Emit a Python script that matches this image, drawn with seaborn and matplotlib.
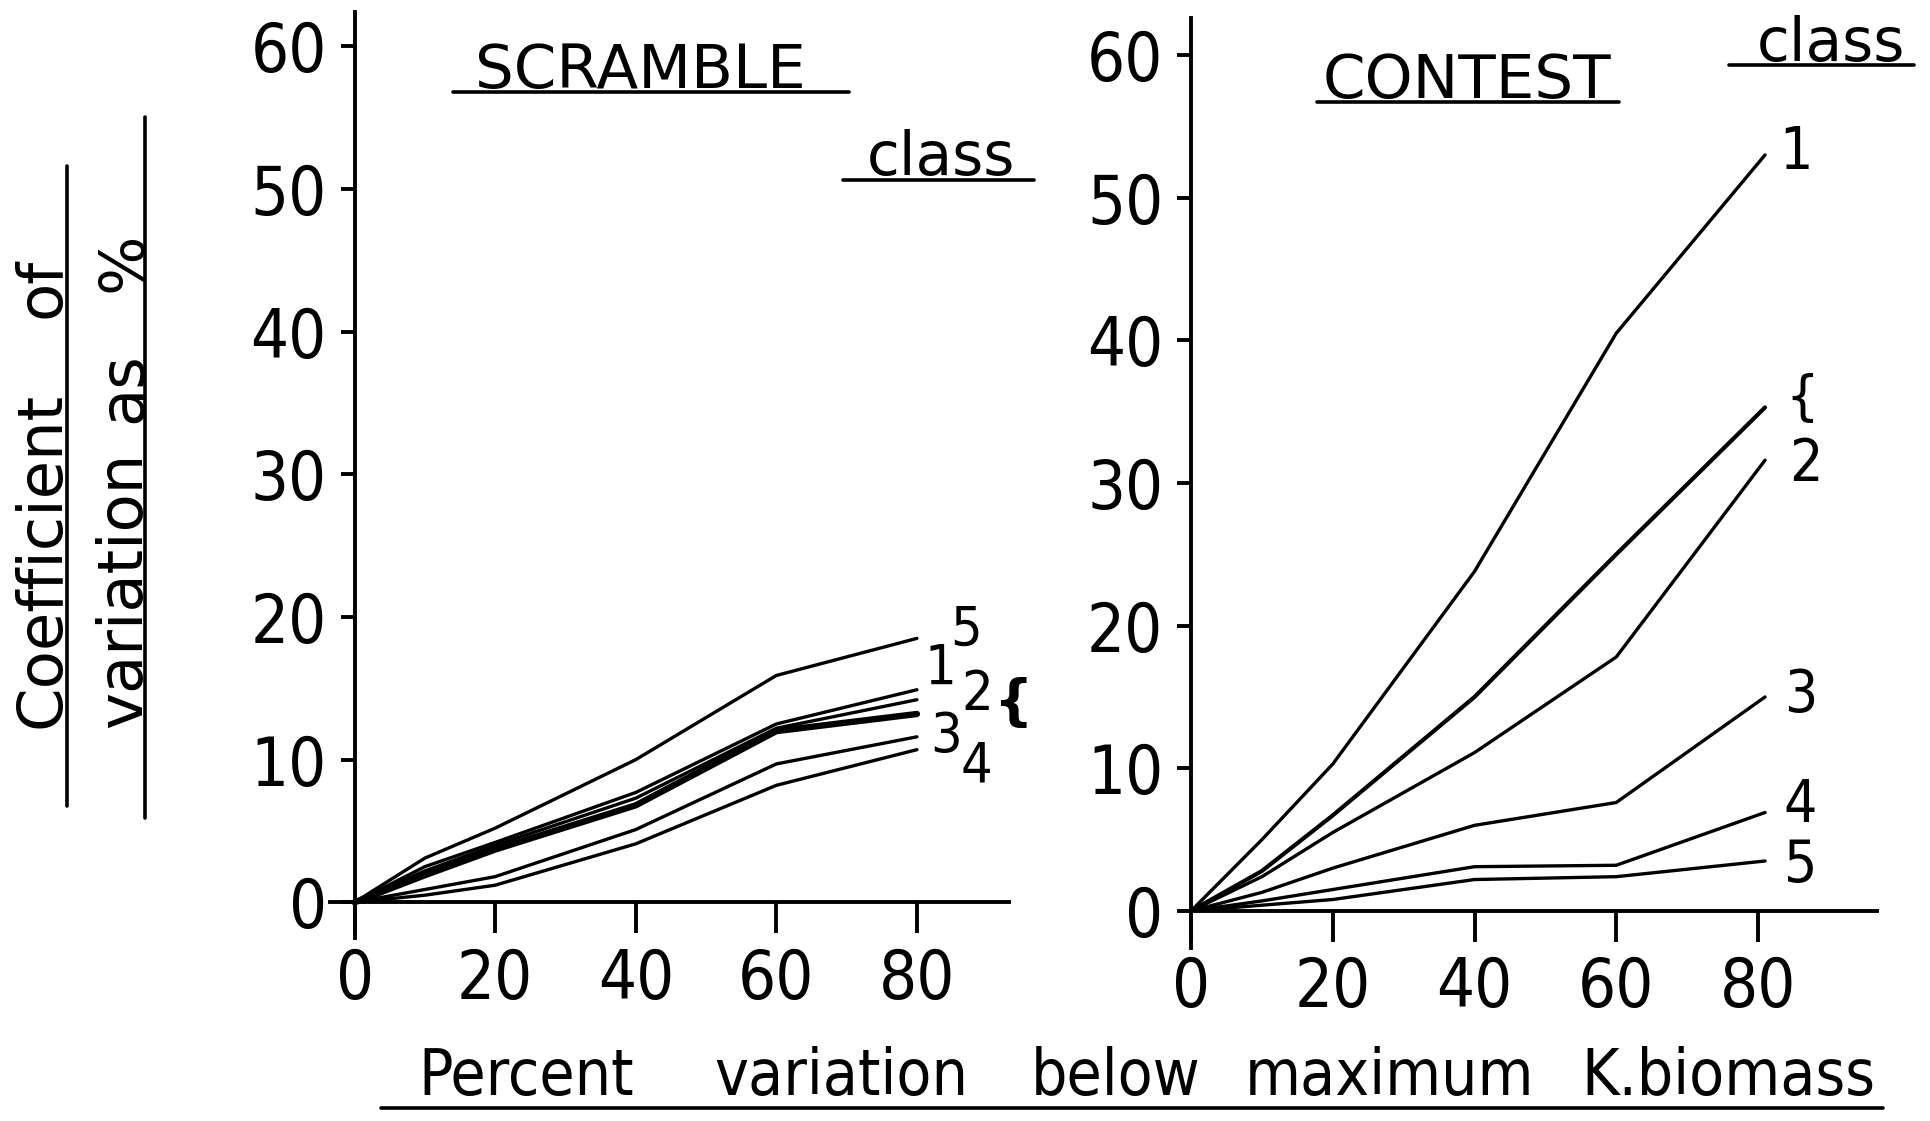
import numpy as np
import pandas as pd
import matplotlib
matplotlib.use("Agg")
import matplotlib.pyplot as plt
from matplotlib.lines import Line2D
from matplotlib.font_manager import FontProperties
import seaborn as sns

# ---------------- data ----------------
x_scramble = [0, 10, 20, 40, 60, 80]
scramble_5 = [0, 3.1, 5.2, 10.0, 15.9, 18.5]
scramble_1 = [0, 2.5, 4.2, 7.7, 12.5, 14.9]
scramble_2 = [0, 2.2, 4.0, 7.3, 12.2, 14.2]
scramble_brace = [0, 1.9, 3.7, 6.8, 12.0, 13.2]
scramble_3 = [0, 0.9, 1.8, 5.1, 9.7, 11.6]
scramble_4 = [0, 0.5, 1.2, 4.1, 8.2, 10.7]

x_contest = [0, 10, 20, 40, 60, 81]
contest_1 = [0, 5.0, 10.3, 23.8, 40.5, 53.0]
contest_brace = [0, 2.8, 6.7, 15.0, 25.0, 35.3]
contest_2 = [0, 2.4, 5.5, 11.1, 17.8, 31.6]
contest_3 = [0, 1.3, 3.0, 6.0, 7.6, 15.0]
contest_4 = [0, 0.7, 1.5, 3.1, 3.2, 6.9]
contest_5 = [0, 0.4, 0.8, 2.2, 2.4, 3.5]

y_ticks = [0, 10, 20, 30, 40, 50, 60]
x_ticks = [0, 20, 40, 60, 80]

scramble_labels = ["5", "1", "2", "3", "4"]
contest_labels = ["1", "2", "3", "4", "5"]
xlabel_words = ["Percent", "variation", "below", "maximum", "K.biomass"]

# ---------------- style ----------------
sns.set_theme(style="white")
plt.rcParams["font.family"] = ["DejaVu Sans"]
plt.rcParams["text.color"] = "black"
plt.rcParams["xtick.color"] = "black"
plt.rcParams["ytick.color"] = "black"


def numfont(size):
    return FontProperties(family=["DejaVu Sans"], stretch="condensed", size=size)


W, H = 1930, 1121
fig = plt.figure(figsize=(W / 100, H / 100), dpi=100)
fig.patch.set_facecolor("white")

LW = 2.4
LW_THICK = 4.6
SPINE_W = 2.8


def px_axes(left, right, top, bottom):
    return fig.add_axes([left / W, 1 - bottom / H, (right - left) / W, (bottom - top) / H])


def style_axes(ax, xlim, ylim):
    ax.set_xlim(*xlim)
    ax.set_ylim(*ylim)
    ax.set_facecolor("none")
    for s in ["top", "right"]:
        ax.spines[s].set_visible(False)
    for s in ["left", "bottom"]:
        ax.spines[s].set_color("black")
        ax.spines[s].set_linewidth(SPINE_W)
    ax.spines["left"].set_position(("data", 0))
    ax.spines["bottom"].set_position(("data", 0))
    ax.set_xticks(x_ticks)
    ax.set_yticks(y_ticks)
    ax.tick_params(axis="y", direction="out", length=10, width=SPINE_W, color="black",
                   pad=10, left=True)
    ax.tick_params(axis="x", direction="out", length=22, width=SPINE_W, color="black",
                   pad=10, bottom=True)
    for lab in ax.get_xticklabels() + ax.get_yticklabels():
        lab.set_fontproperties(numfont(48))
        lab.set_color("black")
    ax.set_xlabel("")
    ax.set_ylabel("")
    ax.grid(False)


def draw(ax, x, y, lw):
    df = pd.DataFrame({"x": x, "y": y})
    sns.lineplot(data=df, x="x", y="y", ax=ax, color="black", linewidth=lw,
                 solid_joinstyle="round", solid_capstyle="round", estimator=None, sort=False)


# ---------------- SCRAMBLE panel ----------------
ax1 = px_axes(330, 1009, 12, 938)
for ys in [scramble_5, scramble_1, scramble_2, scramble_3, scramble_4]:
    draw(ax1, x_scramble, ys, LW)
draw(ax1, x_scramble, scramble_brace, LW_THICK)
style_axes(ax1, (-3.5, 93.1), (-2.5, 62.4))

scr_lab_pos = [(87.0, 19.0), (83.4, 16.4), (88.6, 14.5), (84.2, 11.6), (88.4, 9.5)]
for lab, (lx, ly) in zip(scramble_labels, scr_lab_pos):
    ax1.text(lx, ly, lab, fontproperties=numfont(40), ha="center", va="center", color="black")
ax1.text(93.6, 13.9, "{", fontsize=40, fontweight="bold", ha="center", va="center", color="black")

# ---------------- CONTEST panel ----------------
ax2 = px_axes(1184, 1877, 18, 948)
for ys in [contest_1, contest_2, contest_3, contest_4, contest_5]:
    draw(ax2, x_contest, ys, LW)
draw(ax2, x_contest, contest_brace, LW + 0.6)
style_axes(ax2, (-1.0, 96.8), (-2.6, 62.6))

con_lab_pos = [(85.4, 53.2), (86.7, 31.3), (86.0, 15.1), (86.0, 7.4), (86.0, 3.2)]
for lab, (lx, ly) in zip(contest_labels, con_lab_pos):
    ax2.text(lx, ly, lab, fontproperties=numfont(42), ha="center", va="center", color="black")
ax2.text(86.2, 35.9, "{", fontsize=38, ha="center", va="center", color="black")

# ---------------- overlay for titles / axis labels ----------------
ov = fig.add_axes([0, 0, 1, 1])
ov.set_xlim(0, W)
ov.set_ylim(H, 0)
ov.axis("off")
ov.patch.set_alpha(0)


def uline(x0, y0, x1, y1, lw=2.6):
    ov.add_line(Line2D([x0, x1], [y0, y1], color="black", linewidth=lw))


ov.text(640, 88, "SCRAMBLE", fontsize=44, ha="center", va="baseline")
uline(453, 92, 849, 92)
ov.text(1467, 98, "CONTEST", fontsize=44, ha="center", va="baseline")
uline(1317, 102, 1619, 102)
ov.text(941, 175, "class", fontsize=43, ha="center", va="baseline")
uline(843, 180, 1034, 180)
ov.text(1831, 61, "class", fontsize=43, ha="center", va="baseline")
uline(1729, 65, 1914, 65)

# y label (two rotated lines)
ov.text(43, 560, "Coefficient", fontsize=45, rotation=90, ha="center", va="center")
ov.text(43, 288, "of", fontsize=45, rotation=90, ha="center", va="center")
uline(67, 166, 67, 806)
ov.text(124, 590, "variation", fontsize=45, rotation=90, ha="center", va="center")
ov.text(124, 388, "as", fontsize=45, rotation=90, ha="center", va="center")
ov.text(124, 262, "%", fontsize=45, rotation=90, ha="center", va="center")
uline(145, 117, 145, 818)

# x label
for word, cx in zip(xlabel_words, [526, 841, 1116, 1390, 1728]):
    ov.text(cx, 1095, word, fontproperties=numfont(46), ha="center", va="baseline")
uline(381, 1108, 1883, 1108)

fig.savefig("out.png", dpi=100, facecolor="white")
